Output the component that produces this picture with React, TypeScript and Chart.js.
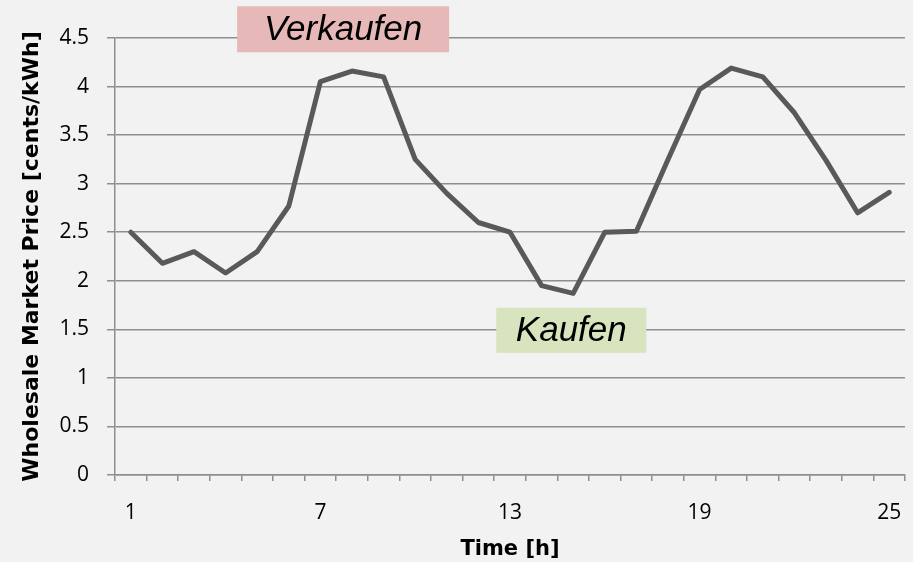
import React, { useEffect, useRef } from "react";
import { Chart, registerables } from "chart.js";

Chart.register(...registerables);

const hours: string[] = [
  "1", "2", "3", "4", "5", "6", "7", "8", "9", "10", "11", "12", "13",
  "14", "15", "16", "17", "18", "19", "20", "21", "22", "23", "24", "25",
];

const prices: number[] = [
  2.5, 2.18, 2.3, 2.08, 2.3, 2.77, 4.05, 4.16, 4.1, 3.25, 2.9, 2.6, 2.5,
  1.95, 1.87, 2.5, 2.51, 3.25, 3.97, 4.19, 4.1, 3.73, 3.24, 2.7, 2.91,
];

const shownHourLabels: string[] = ["1", "7", "13", "19", "25"];

const yTicks: number[] = [0, 0.5, 1, 1.5, 2, 2.5, 3, 3.5, 4, 4.5];

const annotationTexts: string[] = ["Verkaufen", "Kaufen"];
// anchor in data space: category index (0-based, fractional) and price value
const annotationX: number[] = [6.72, 13.94];
const annotationY: number[] = [4.59, 1.49];

const annotationStyle = [
  { bg: "#e6b9b8", w: 212, h: 46 },
  { bg: "#d7e4bd", w: 150, h: 45 },
];

const bgPlugin = {
  id: "bgFill",
  beforeDraw(chart: any) {
    const ctx = chart.ctx;
    ctx.save();
    ctx.fillStyle = "#f2f2f2";
    ctx.fillRect(0, 0, chart.width, chart.height);
    ctx.restore();
  },
};

const labelPlugin = {
  id: "boxLabels",
  afterDraw(chart: any) {
    const ctx = chart.ctx;
    const xs = chart.scales.x;
    const ys = chart.scales.y;
    ctx.save();
    annotationTexts.forEach((t, i) => {
      const cx = xs.getPixelForValue(annotationX[i]);
      const cy = ys.getPixelForValue(annotationY[i]);
      const st = annotationStyle[i];
      ctx.fillStyle = st.bg;
      ctx.fillRect(cx - st.w / 2, cy - st.h / 2, st.w, st.h);
      ctx.fillStyle = "#000000";
      ctx.font = "italic 35px 'Liberation Sans', Arial, sans-serif";
      ctx.textAlign = "center";
      ctx.textBaseline = "middle";
      ctx.fillText(t, cx, cy + 1);
    });
    ctx.restore();
  },
};

export default function App() {
  const ref = useRef<HTMLCanvasElement | null>(null);

  useEffect(() => {
    if (!ref.current) return;
    const gridColor = "#8e8e8e";
    const chart = new Chart(ref.current, {
      type: "line",
      data: {
        labels: hours,
        datasets: [
          {
            data: prices,
            borderColor: "#595959",
            borderWidth: 5,
            pointRadius: 0,
            tension: 0,
            borderJoinStyle: "round",
            borderCapStyle: "round",
            fill: false,
          },
        ],
      },
      options: {
        responsive: false,
        animation: false,
        layout: { padding: { top: 38, right: 8, left: 0, bottom: 0 } },
        plugins: {
          legend: { display: false },
          tooltip: { enabled: false },
        },
        scales: {
          x: {
            type: "category",
            offset: true,
            grid: {
              display: true,
              offset: true,
              drawOnChartArea: false,
              drawTicks: true,
              tickLength: 6,
              color: gridColor,
              lineWidth: 1.5,
            },
            border: { display: true, color: gridColor, width: 1.5 },
            ticks: {
              autoSkip: false,
              maxRotation: 0,
              minRotation: 0,
              padding: 19,
              color: "#000000",
              font: { family: "'Open Sans', sans-serif", size: 21 },
              callback: function (this: any, value: any, index: number) {
                const lab = hours[index];
                return shownHourLabels.includes(lab) ? lab : "";
              },
            },
            title: {
              display: true,
              text: "Time [h]",
              color: "#000000",
              font: { family: "'DejaVu Sans', sans-serif", size: 21, weight: "bold" },
              padding: { top: 0, bottom: 0 },
            },
            afterFit(scale: any) {
              scale.height = 87;
              scale.paddingLeft = 0;
              scale.paddingRight = 0;
            },
          },
          y: {
            min: 0,
            max: 4.5,
            afterBuildTicks(scale: any) {
              scale.ticks = yTicks.map((v) => ({ value: v }));
            },
            grid: {
              color: gridColor,
              lineWidth: 1.5,
              tickLength: 8,
            },
            border: { display: true, color: gridColor, width: 1.5 },
            ticks: {
              padding: 18,
              color: "#000000",
              font: { family: "'Open Sans', sans-serif", size: 21 },
              callback: (v: any) => String(v),
            },
            title: {
              display: true,
              text: "Wholesale Market Price [cents/kWh]",
              color: "#000000",
              font: { family: "'DejaVu Sans', sans-serif", size: 22, weight: "bold" },
              padding: { top: 19, bottom: 0 },
            },
            afterFit(scale: any) {
              scale.width = 115;
            },
          },
        },
      },
      plugins: [bgPlugin, labelPlugin],
    } as any);
    return () => chart.destroy();
  }, []);

  return (
    <div
      style={{
        position: "fixed",
        left: 0,
        top: 0,
        width: 913,
        height: 562,
        background: "#f2f2f2",
      }}
    >
      <canvas ref={ref} width={913} height={562} style={{ display: "block" }} />
    </div>
  );
}
